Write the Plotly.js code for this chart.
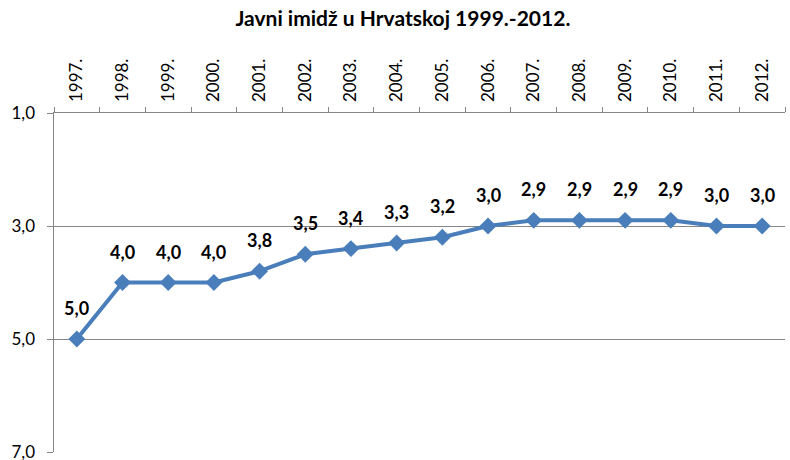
<!DOCTYPE html>
<html>
<head>
<meta charset="utf-8">
<script src="https://cdn.plot.ly/plotly-3.0.1.min.js"></script>
<style>
  html, body { margin: 0; padding: 0; background: #fff; }
  #chart { width: 790px; height: 460px; }
</style>
</head>
<body>
<div id="chart"></div>
<script>
// years and average image score (1 = best, 7 = worst)
var years = ['1997.', '1998.', '1999.', '2000.', '2001.', '2002.', '2003.', '2004.',
             '2005.', '2006.', '2007.', '2008.', '2009.', '2010.', '2011.', '2012.'];
var scores = [5.0, 4.0, 4.0, 4.0, 3.8, 3.5, 3.4, 3.3, 3.2, 3.0, 2.9, 2.9, 2.9, 2.9, 3.0, 3.0];
var yTicks = [1, 3, 5, 7];

var fontFam = 'Lato, "Open Sans", sans-serif';

var trace = {
    x: years,
    y: scores,
    type: 'scatter',
    mode: 'lines+markers',
    line: {color: '#4A7EBB', width: 4},
    marker: {symbol: 'diamond', size: 13, color: '#4A7EBB'},
    hoverinfo: 'x+y',
    cliponaxis: false
};

// value labels above each point (x given as category index)
var labels = scores.map(function (v, i) {
    return {
        x: i, y: v,
        xref: 'x', yref: 'y',
        text: '<b>' + v.toFixed(1).replace('.', ',') + '</b>',
        showarrow: false,
        yshift: 31,
        font: {family: fontFam, size: 18, color: '#000'}
    };
});

var layout = {
    width: 790,
    height: 460,
    margin: {l: 54, r: 5, t: 113, b: 8},
    paper_bgcolor: '#fff',
    plot_bgcolor: '#fff',
    separators: ', ',
    font: {family: fontFam, size: 17, color: '#000'},
    title: {
        text: '<b>Javni imidž u Hrvatskoj 1999.-2012.</b>',
        font: {family: fontFam, size: 21, color: '#000'},
        x: 0.51, xref: 'container', xanchor: 'center',
        y: 0.96, yref: 'container', yanchor: 'middle'
    },
    xaxis: {
        type: 'category',
        side: 'top',
        range: [-0.5, years.length - 0.5],
        tickangle: -90,
        ticks: 'outside',
        tickson: 'boundaries',
        ticklen: 5,
        ticklabelstandoff: 6,
        tickcolor: '#868686',
        showline: true,
        linecolor: '#868686',
        linewidth: 1.5,
        showgrid: false,
        zeroline: false,
        fixedrange: true
    },
    yaxis: {
        range: [7, 1],
        tickvals: yTicks,
        tickformat: '.1f',
        ticks: 'outside',
        ticklen: 6,
        ticklabelstandoff: 8,
        ticklabeloverflow: 'allow',
        tickcolor: '#868686',
        showline: true,
        linecolor: '#868686',
        linewidth: 1.5,
        showgrid: true,
        gridcolor: '#868686',
        gridwidth: 1,
        zeroline: false,
        fixedrange: true
    },
    annotations: labels,
    showlegend: false
};

Plotly.newPlot('chart', [trace], layout, {displayModeBar: false, staticPlot: true});
</script>
</body>
</html>
